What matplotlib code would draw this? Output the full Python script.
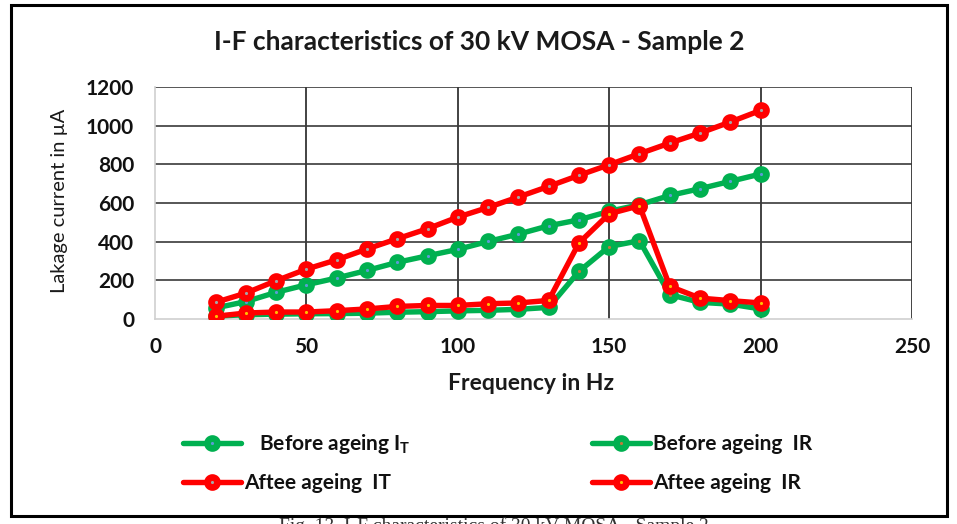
import matplotlib
matplotlib.use("Agg")
import matplotlib.pyplot as plt
from matplotlib.patches import Rectangle

plt.rcParams["font.family"] = ["Lato", "DejaVu Sans"]
plt.rcParams["mathtext.default"] = "regular"

# frequency in Hz
freq = [20, 30, 40, 50, 60, 70, 80, 90, 100, 110, 120, 130, 140, 150, 160, 170, 180, 190, 200]

# leakage current in uA
before_it = [57, 90, 138, 177, 212, 251, 293, 327, 360, 401, 439, 482, 513, 557, 591, 639, 674, 712, 750]
before_ir = [15, 22, 25, 27, 28, 30, 35, 38, 42, 45, 50, 60, 246, 375, 405, 126, 86, 77, 52]
after_it = [86, 134, 198, 258, 306, 362, 415, 467, 527, 577, 631, 686, 743, 798, 855, 910, 962, 1019, 1079]
after_ir = [14, 31, 36, 36, 43, 52, 65, 70, 70, 79, 83, 96, 393, 544, 586, 169, 108, 95, 83]

x_ticks = [0, 50, 100, 150, 200, 250]
y_ticks = [0, 200, 400, 600, 800, 1000, 1200]

GREEN = "#00B050"
RED = "#FF0000"

W, H = 957, 524
fig = plt.figure(figsize=(W / 100, H / 100), dpi=100)
ax = fig.add_axes([155 / W, 1 - 319 / H, (912 - 155) / W, (319 - 87) / H])

ax.set_xlim(0, 250)
ax.set_ylim(0, 1200)
for xv in x_ticks[1:]:
    ax.axvline(xv, color="#222222", lw=1.2, zorder=1)
for yv in y_ticks[1:]:
    ax.axhline(yv, color="#3a3a3a", lw=1.2, zorder=1)

series = [
    (before_it, GREEN, "#5B9BD5", "   Before ageing I$_T$"),
    (before_ir, GREEN, "#C07A3A", "Before ageing  IR"),
    (after_it, RED, "#A5A5A5", "Aftee ageing  IT"),
    (after_ir, RED, "#FFC000", "Aftee ageing  IR"),
]
handles = []
for vals, col, dot, lab in series:
    h, = ax.plot(freq, vals, color=col, lw=3.9, marker="o", ms=7.2, mew=4.8,
                 mec=col, mfc=dot, label=lab, zorder=3, solid_capstyle="round")
    handles.append(h)

for side in ["top", "right"]:
    ax.spines[side].set_visible(False)
for side in ["left", "bottom"]:
    ax.spines[side].set_color("#D0D0D0")
    ax.spines[side].set_linewidth(1.2)

ax.set_xticks(x_ticks)
ax.set_yticks(y_ticks)
ax.tick_params(length=0, labelsize=15, labelcolor="#111111")
ax.tick_params(axis="y", pad=15)
ax.tick_params(axis="x", pad=13)
for t in ax.get_xticklabels() + ax.get_yticklabels():
    t.set_fontweight("bold")

fig.text(479 / W, 1 - 42 / H, "I-F characteristics of 30 kV MOSA - Sample 2",
         ha="center", va="center", fontsize=19, fontweight="bold", color="#1a1a1a")
fig.text(531 / W, 1 - 383 / H, "Frequency in Hz", ha="center", va="center",
         fontsize=16.5, fontweight="bold", color="#1a1a1a")
fig.text(60 / W, 1 - 201 / H, "Lakage current in µA", ha="center", va="center",
         rotation=90, fontsize=14.5, color="#1a1a1a")

# one legend per entry so the two columns line up like the original
leg_pos = [(183, 444), (592, 444), (183, 483), (592, 483)]
for h, (vals, col, dot, lab), (px, py) in zip(handles, series, leg_pos):
    leg = fig.legend([h], [lab], loc="center left", bbox_to_anchor=(px / W, 1 - py / H),
                     frameon=False, fontsize=15, handlelength=2.8, handletextpad=0.15,
                     borderpad=0, borderaxespad=0)
    for t in leg.get_texts():
        t.set_fontweight("bold")
        t.set_color("#111111")

fig.patches.append(Rectangle((11 / W, 1 - 516 / H), (947 - 11) / W, (516 - 5) / H,
                             transform=fig.transFigure, fill=False, lw=2.2, color="black"))
fig.text(494 / W, 1 - 517 / H, "Fig. 13. I-F characteristics of 30 kV MOSA - Sample 2",
         ha="center", va="top", fontsize=14, family="Liberation Serif", color="#333333")

fig.savefig("out.png", dpi=100)
